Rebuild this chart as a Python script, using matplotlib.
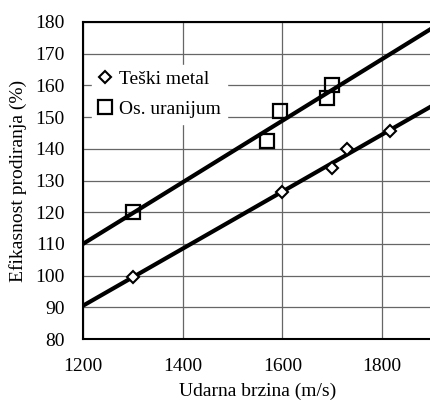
import matplotlib
matplotlib.use("Agg")
import matplotlib.pyplot as plt
import numpy as np

# Data
tm_x = [1300, 1600, 1700, 1730, 1815]
tm_y = [99.5, 126.5, 134.0, 140.0, 145.5]
ou_x = [1300, 1570, 1595, 1690, 1700]
ou_y = [120.0, 142.5, 152.0, 156.0, 160.0]
# trend lines (endpoints)
tm_fit_x = [1200, 1900]
tm_fit_y = [90.5, 153.5]
ou_fit_x = [1200, 1900]
ou_fit_y = [110.0, 178.0]
xticks = [1200, 1400, 1600, 1800]
yticks = list(range(80, 181, 10))

plt.rcParams['font.family'] = ['Liberation Serif', 'DejaVu Serif']
fig = plt.figure(figsize=(4.31, 4.05), dpi=100)
ax = fig.add_axes([83/431, 1 - 339/405, 1 - 83/431 + 0.002, (339 - 22)/405])

ax.grid(True, color='#666666', linewidth=0.9)
ax.set_axisbelow(True)
ax.plot(tm_fit_x, tm_fit_y, color='black', lw=3, zorder=3)
ax.plot(ou_fit_x, ou_fit_y, color='black', lw=3, zorder=3)
ax.plot(tm_x, tm_y, linestyle='none', marker='D', ms=6, mfc='white', mec='black', mew=1.5,
        label='Teški metal', zorder=4)
ax.plot(ou_x, ou_y, linestyle='none', marker='s', ms=10, mfc='none', mec='black', mew=1.6,
        label='Os. uranijum', zorder=4)

ax.set_xlim(1200, 1900)
ax.set_ylim(80, 180)
ax.set_xticks(xticks)
ax.set_yticks(yticks)
ax.tick_params(labelsize=14, length=0)
ax.tick_params(axis='y', pad=13)
ax.tick_params(axis='x', pad=14)
for s in ['left', 'bottom', 'top']:
    ax.spines[s].set_linewidth(1.5)
ax.spines['right'].set_visible(False)

ax.set_xlabel('Udarna brzina (m/s)', fontsize=14, labelpad=5)
ax.set_ylabel('Efikasnost prodiranja (%)', fontsize=14, labelpad=6)

leg = ax.legend(loc='upper left', bbox_to_anchor=(0.025, 0.865), frameon=True, fontsize=14,
                handlelength=0.8, handletextpad=0.3, borderpad=0.3, labelspacing=0.62,
                borderaxespad=0)
leg.get_frame().set_edgecolor('white')
leg.get_frame().set_facecolor('white')
leg.get_frame().set_alpha(1)
leg.get_frame().set_boxstyle('square', pad=0)

fig.savefig('out.png', dpi=100)
